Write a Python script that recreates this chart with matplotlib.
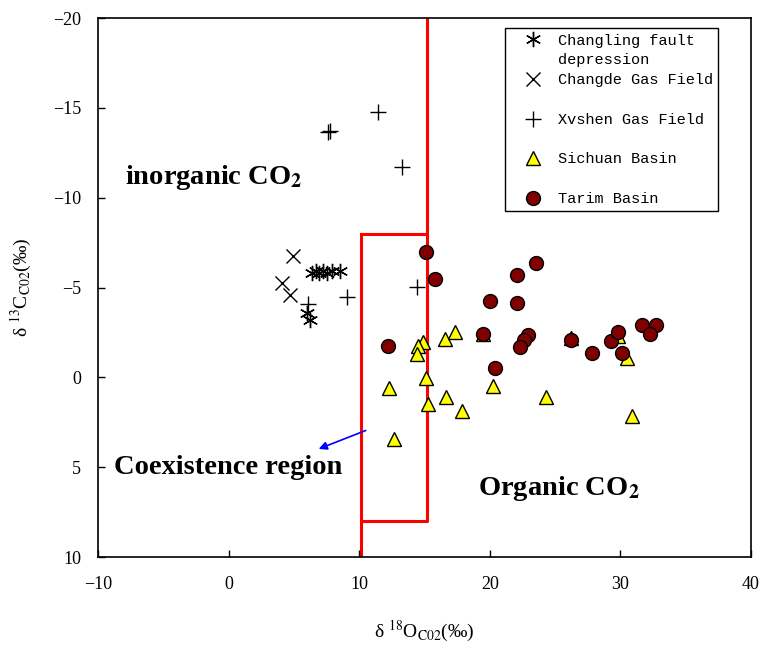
import matplotlib
matplotlib.use('Agg')
import matplotlib.pyplot as plt
from matplotlib.lines import Line2D

plt.rcParams['font.family'] = ['Liberation Serif', 'DejaVu Serif']
plt.rcParams['mathtext.fontset'] = 'stix'

# d18O (x) and d13C (y) values, per permil
changling_x = [6.4, 6.7, 6.9, 7.2, 7.5, 7.9, 8.5, 6.0, 6.25]
changling_y = [-5.8, -5.9, -5.8, -5.9, -5.8, -5.9, -5.9, -3.6, -3.2]

changde_x = [4.9, 4.1, 4.7]
changde_y = [-6.76, -5.27, -4.59]

xvshen_x = [11.46, 7.6, 7.8, 13.3, 14.4, 9.1, 6.1]
xvshen_y = [-14.75, -13.67, -13.73, -11.7, -5.05, -4.46, -4.1]

sichuan_x = [14.86, 14.5, 14.4, 16.6, 17.3, 19.5, 15.1, 12.3, 15.25, 16.65,
             17.9, 20.25, 24.3, 26.2, 29.8, 30.5, 30.9, 12.7]
sichuan_y = [-1.99, -1.75, -1.3, -2.12, -2.5, -2.4, 0.02, 0.6, 1.5, 1.07,
             1.87, 0.46, 1.07, -2.2, -2.3, -1.06, 2.15, 3.43]

tarim_x = [15.1, 15.8, 23.5, 22.1, 20.0, 22.06, 12.2, 19.5, 22.9, 22.6,
           22.3, 20.4, 26.2, 27.8, 29.3, 29.8, 30.1, 31.65, 32.7, 32.3]
tarim_y = [-7.0, -5.5, -6.35, -5.7, -4.27, -4.12, -1.76, -2.4, -2.36, -2.1,
           -1.7, -0.5, -2.08, -1.37, -2.04, -2.5, -1.37, -2.93, -2.93, -2.4]

# red boundary of the coexistence region
box_x = [10.1, 15.2, 15.2, 10.1, 10.1]
box_y = [-8, -8, 8, 8, -8]
right_line_x = [15.2, 15.2]
right_line_y = [-20, -8]
left_line_x = [10.1, 10.1]
left_line_y = [8, 10]

fig = plt.figure(figsize=(7.62, 6.45), dpi=100)
ax = fig.add_axes([0.1286, 0.1364, 0.857, 0.8356])

ax.plot(box_x, box_y, color='red', lw=2.2, zorder=1)
ax.plot(right_line_x, right_line_y, color='red', lw=2.2, zorder=1)
ax.plot(left_line_x, left_line_y, color='red', lw=2.2, zorder=1)

h1, = ax.plot(changling_x, changling_y, ls='none', marker=(6, 2, 0), ms=11,
              mec='black', mew=1.0, zorder=3)
h2, = ax.plot(changde_x, changde_y, ls='none', marker='x', ms=10,
              mec='black', mew=1.0, zorder=3)
h3, = ax.plot(xvshen_x, xvshen_y, ls='none', marker='+', ms=11,
              mec='black', mew=1.0, zorder=3)
h4, = ax.plot(sichuan_x, sichuan_y, ls='none', marker='^', ms=10,
              mfc='#ffff00', mec='black', mew=1.0, zorder=3)
h5, = ax.plot(tarim_x, tarim_y, ls='none', marker='o', ms=10,
              mfc='#800000', mec='black', mew=1.0, zorder=4)

ax.set_xlim(-10, 40)
ax.set_ylim(10, -20)
ax.set_xticks([-10, 0, 10, 20, 30, 40])
ax.set_yticks([-20, -15, -10, -5, 0, 5, 10])
ax.tick_params(direction='in', length=5, width=1, labelsize=13)
ax.tick_params(axis='x', pad=14)
ax.tick_params(axis='y', pad=12)
for s in ax.spines.values():
    s.set_linewidth(1.2)

ax.set_xlabel(r'δ $^{18}$O$_{\mathrm{C02}}$(‰)', fontsize=14, labelpad=18)
ax.set_ylabel(r'δ $^{13}$C$_{\mathrm{C02}}$(‰)', fontsize=14, labelpad=14)

ax.text(-7.9, -11.1, r'inorganic CO$_\mathbf{2}$', fontsize=20.5,
        fontweight='bold', va='center', ha='left')
ax.text(-8.8, 5.0, 'Coexistence region', fontsize=20.5,
        fontweight='bold', va='center', ha='left')
ax.text(19.1, 6.2, r'Organic CO$_\mathbf{2}$', fontsize=20.5,
        fontweight='bold', va='center', ha='left')

ax.annotate('', xy=(6.7, 4.04), xytext=(10.7, 2.9),
            arrowprops=dict(arrowstyle='-|>', color='blue', lw=1.2,
                            mutation_scale=12))

# legend rows: blank handles keep the uneven row spacing of the original
blank = Line2D([], [], ls='none')
handles = [h1, blank, h2, blank, h3, blank, h4, blank, h5]
labels = ['Changling fault', 'depression', 'Changde Gas Field', ' ',
          'Xvshen Gas Field', ' ', 'Sichuan Basin', ' ', 'Tarim Basin']
leg = ax.legend(handles, labels, loc='upper left',
                bbox_to_anchor=(0.623, 0.981),
                borderaxespad=0, fancybox=False, edgecolor='black',
                framealpha=1, prop={'family': 'Liberation Mono', 'size': 11},
                labelspacing=0.38, borderpad=0.35, handlelength=3.0,
                handletextpad=0.1, numpoints=1)
leg.get_frame().set_linewidth(1.0)
leg.set_zorder(5)

fig.savefig('out.png', dpi=100)
